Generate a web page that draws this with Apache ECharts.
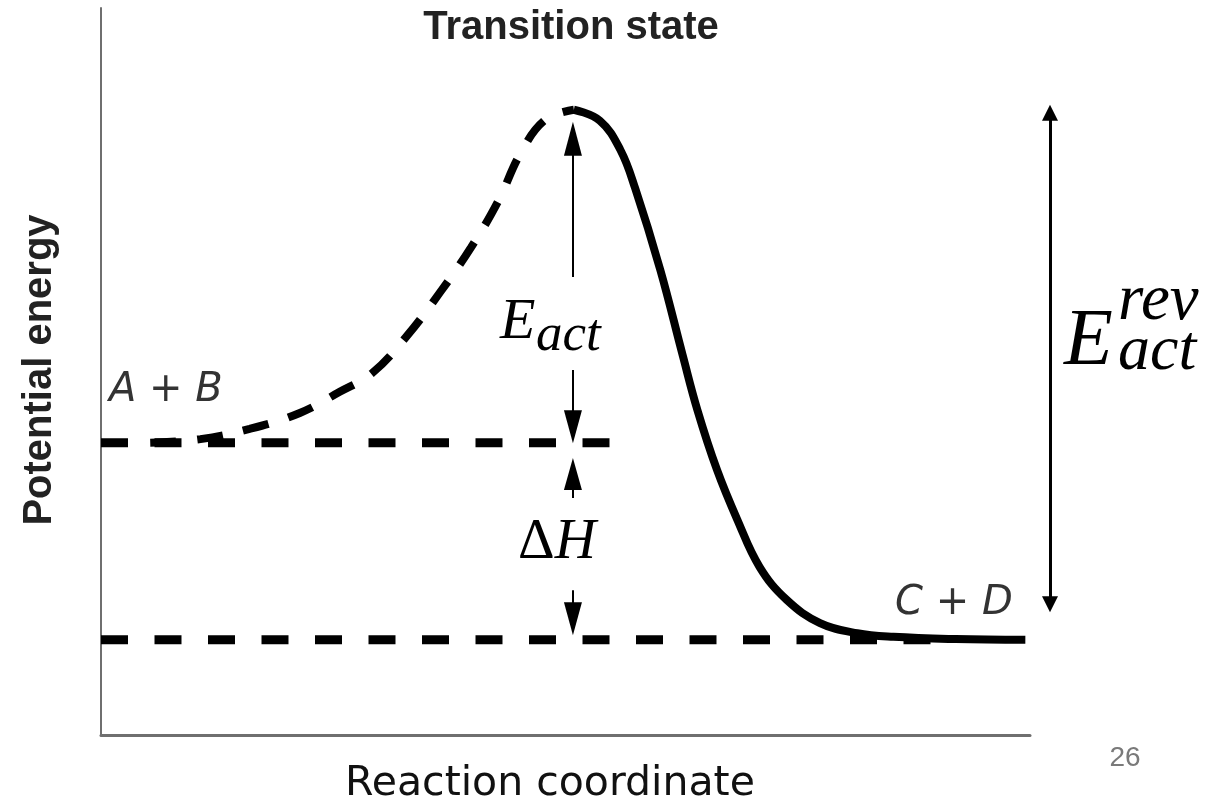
<!DOCTYPE html>
<html>
<head>
<meta charset="utf-8">
<script src="https://cdn.jsdelivr.net/npm/echarts@6/dist/echarts.min.js"></script>
<style>
  html, body { margin: 0; padding: 0; background: #fff; }
  #chart { width: 1228px; height: 803px; }
</style>
</head>
<body>
<div id="chart"></div>
<script>
// reaction coordinate runs 0..100, potential energy 0..100 (arbitrary units)
var reactantLevel = [[0, 40.2], [55.1, 40.2]];
var productLevel = [[0, 13.1], [89.8, 13.1]];

// uphill side, drawn dashed
var forwardPath = [
  [5.3, 40.2], [10.7, 40.7], [16.0, 42.1], [21.4, 44.3], [25.7, 47.2],
  [29.2, 49.8], [33.0, 55.0], [36.5, 60.9], [39.8, 67.0], [42.7, 73.3],
  [45.2, 80.1], [47.8, 84.6], [50.9, 86.0]
];
// downhill side, drawn solid
var reversePath = [
  [50.9, 86.0], [53.7, 84.5], [55.9, 80.5], [57.5, 75.2], [60.2, 64.0],
  [62.6, 52.3], [64.2, 44.7], [66.3, 36.5], [68.5, 29.6], [70.9, 23.1],
  [73.8, 18.6], [77.4, 15.4], [81.4, 14.0], [85.3, 13.5], [92.0, 13.2],
  [99.5, 13.1]
];

// arrows: [from, to] at a given x
var arrowX = 50.8;
var eactUp = [63.0, 82.0];
var eactDown = [50.2, 42.4];
var dhUp = [32.6, 35.9];
var dhDown = [19.9, 16.0];
var reverseSpan = [18.0, 85.6];

function arrow(x, pair, size) {
  return [
    { coord: [x, pair[0]], symbol: 'none' },
    { coord: [x, pair[1]], symbol: 'triangle', symbolSize: size }
  ];
}

var chart = echarts.init(document.getElementById('chart'));

var mathFont = '"Liberation Serif", "DejaVu Serif", serif';
var sansFont = '"Liberation Sans", Arial, sans-serif';

chart.setOption({
  animation: false,
  backgroundColor: '#fff',
  grid: [
    { left: 101, right: 198, top: 8, bottom: 68 },
    { left: 1030, width: 40, top: 8, bottom: 68 }
  ],
  xAxis: [
    {
      type: 'value', min: 0, max: 100, gridIndex: 0,
      axisLine: { show: true, lineStyle: { color: '#6f6f6f', width: 3 } },
      axisTick: { show: false }, axisLabel: { show: false }, splitLine: { show: false }
    },
    { type: 'value', min: 0, max: 1, gridIndex: 1, show: false }
  ],
  yAxis: [
    {
      type: 'value', min: 0, max: 100, gridIndex: 0,
      axisLine: { show: true, lineStyle: { color: '#6f6f6f', width: 2 } },
      axisTick: { show: false }, axisLabel: { show: false }, splitLine: { show: false }
    },
    { type: 'value', min: 0, max: 100, gridIndex: 1, show: false }
  ],
  series: [
    {
      name: 'reactants', type: 'line', data: reactantLevel, symbol: 'none', silent: true,
      lineStyle: { color: '#000', width: 9, type: [27, 26.5] }
    },
    {
      name: 'products', type: 'line', data: productLevel, symbol: 'none', silent: true,
      lineStyle: { color: '#000', width: 9, type: [27, 26.5] }
    },
    {
      name: 'forward', type: 'line', data: forwardPath, symbol: 'none', smooth: 0.4, silent: true,
      lineStyle: { color: '#000', width: 8, type: [26, 21] }
    },
    {
      name: 'reverse', type: 'line', data: reversePath, symbol: 'none', smooth: 0.4, silent: true,
      lineStyle: { color: '#000', width: 8, cap: 'butt' },
      markLine: {
        silent: true,
        label: { show: false },
        lineStyle: { color: '#000', width: 2, type: 'solid' },
        data: [
          arrow(arrowX, eactUp, [18, 34]),
          arrow(arrowX, eactDown, [18, 33]),
          arrow(arrowX, dhUp, [18, 32]),
          arrow(arrowX, dhDown, [18, 33])
        ]
      }
    },
    {
      name: 'reverseBarrier', type: 'line', data: [], xAxisIndex: 1, yAxisIndex: 1, symbol: 'none',
      markLine: {
        silent: true,
        label: { show: false },
        lineStyle: { color: '#000', width: 3, type: 'solid' },
        data: [[
          { coord: [0.5, reverseSpan[0]], symbol: 'triangle', symbolSize: [16, 16] },
          { coord: [0.5, reverseSpan[1]], symbol: 'triangle', symbolSize: [16, 16] }
        ]]
      }
    }
  ],
  graphic: [
    {
      type: 'text', x: 571, y: 28,
      style: { text: 'Transition state', fontFamily: sansFont,
        fontWeight: 'bold', fontSize: 40, fill: '#222', align: 'center', verticalAlign: 'middle' }
    },
    {
      type: 'text', x: 40, y: 370, rotation: Math.PI / 2,
      style: { text: 'Potential energy', fontFamily: sansFont,
        fontWeight: 'bold', fontSize: 40, fill: '#222', align: 'center', verticalAlign: 'middle' }
    },
    {
      type: 'text', x: 550, y: 784,
      style: { text: 'Reaction coordinate', fontFamily: '"DejaVu Sans", sans-serif',
        fontSize: 41, fill: '#111', align: 'center', verticalAlign: 'middle' }
    },
    {
      type: 'text', x: 1125, y: 758,
      style: { text: '26', fontFamily: sansFont,
        fontSize: 28, fill: '#7a7a7a', align: 'center', verticalAlign: 'middle' }
    },
    {
      type: 'text', x: 109, y: 391,
      style: { text: '{i|A} + {i|B}', fontFamily: '"DejaVu Sans", sans-serif', fontSize: 40,
        fill: '#333', align: 'left', verticalAlign: 'middle',
        rich: { i: { fontStyle: 'italic', fontFamily: '"DejaVu Sans", sans-serif', fontSize: 40, fill: '#333' } } }
    },
    {
      type: 'text', x: 895, y: 604,
      style: { text: '{i|C} + {i|D}', fontFamily: '"DejaVu Sans", sans-serif', fontSize: 40,
        fill: '#333', align: 'left', verticalAlign: 'middle',
        rich: { i: { fontStyle: 'italic', fontFamily: '"DejaVu Sans", sans-serif', fontSize: 40, fill: '#333' } } }
    },
    // E_act
    {
      type: 'text', x: 500, y: 323,
      style: { text: 'E', fontFamily: mathFont, fontStyle: 'italic', fontSize: 58, fill: '#000',
        align: 'left', verticalAlign: 'middle' }
    },
    {
      type: 'text', x: 536, y: 336,
      style: { text: 'act', fontFamily: mathFont, fontStyle: 'italic', fontSize: 53, fill: '#000',
        align: 'left', verticalAlign: 'middle' }
    },
    // ΔH
    {
      type: 'text', x: 518, y: 543,
      style: { text: '{d|Δ}{h|H}', fontFamily: mathFont, fontSize: 57, fill: '#000',
        align: 'left', verticalAlign: 'middle',
        rich: {
          d: { fontFamily: mathFont, fontSize: 57, fill: '#000' },
          h: { fontFamily: mathFont, fontStyle: 'italic', fontSize: 57, fill: '#000' }
        } }
    },
    // E_act^rev
    {
      type: 'text', x: 1064, y: 343,
      style: { text: 'E', fontFamily: mathFont, fontStyle: 'italic', fontSize: 80, fill: '#000',
        align: 'left', verticalAlign: 'middle' }
    },
    {
      type: 'text', x: 1118, y: 302,
      style: { text: 'rev', fontFamily: mathFont, fontStyle: 'italic', fontSize: 65, fill: '#000',
        align: 'left', verticalAlign: 'middle' }
    },
    {
      type: 'text', x: 1118, y: 352,
      style: { text: 'act', fontFamily: mathFont, fontStyle: 'italic', fontSize: 64, fill: '#000',
        align: 'left', verticalAlign: 'middle' }
    }
  ]
});
</script>
</body>
</html>
